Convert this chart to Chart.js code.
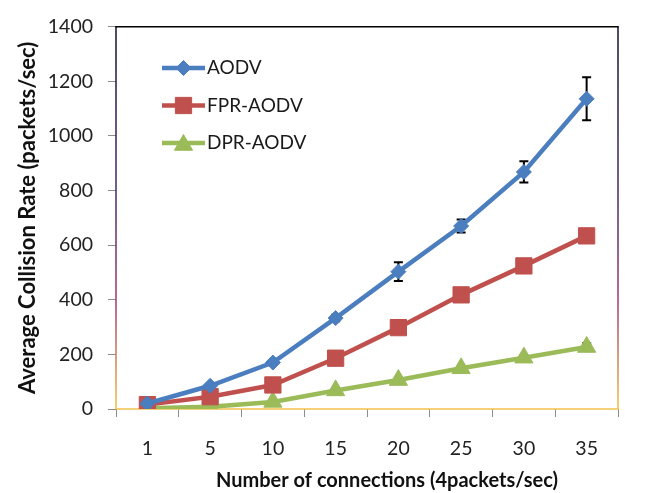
<!DOCTYPE html>
<html>
<head>
<meta charset="utf-8">
<script src="https://cdn.jsdelivr.net/npm/chart.js@4/dist/chart.umd.min.js"></script>
<style>
  html, body { margin: 0; padding: 0; background: #ffffff; }
  #wrap { width: 649px; height: 493px; }
</style>
</head>
<body>
<div id="wrap"><canvas id="chart" width="649" height="493"></canvas></div>
<script>
// Number of connections (x categories)
const connections = ['1', '5', '10', '15', '20', '25', '30', '35'];

// Average collision rate (packets/sec) per protocol
const aodv    = [20, 85, 170, 333, 503, 670, 868, 1136];
const fprAodv = [16, 45, 88, 186, 298, 418, 524, 634];
const dprAodv = [3, 8, 26, 68, 106, 149, 188, 227];

// Half-length of the error bars
const aodvErr    = [3, 5, 8, 12, 34, 24, 39, 79];
const fprAodvErr = [0, 0, 0, 0, 0, 0, 0, 0];
const dprAodvErr = [0, 0, 0, 0, 0, 0, 8, 14];

// Y axis range and step
const yMin = 0;
const yMax = 1400;
const yStep = 200;

const seriesNames = ['AODV', 'FPR-AODV', 'DPR-AODV'];
const xTitle = 'Number of connections (4packets/sec)';
const yTitle = 'Average Collision Rate (packets/sec)';

const BLUE = '#4a7ebf';
const RED = '#c0504d';
const GREEN = '#9bbb59';
const FONT = 'Lato, "Open Sans", sans-serif';

// Plot frame: black top, gradient sides, amber base
const framePlugin = {
  id: 'frame',
  beforeDatasetsDraw(chart) {
    const { ctx, chartArea: a } = chart;
    ctx.save();
    const g = ctx.createLinearGradient(0, a.top, 0, a.bottom);
    g.addColorStop(0, '#111133');
    g.addColorStop(0.45, '#4a2a6a');
    g.addColorStop(0.72, '#a03a70');
    g.addColorStop(1, '#f2c040');
    ctx.lineWidth = 1.5;
    ctx.strokeStyle = g;
    ctx.beginPath();
    ctx.moveTo(a.left, a.top); ctx.lineTo(a.left, a.bottom);
    ctx.moveTo(a.right, a.top); ctx.lineTo(a.right, a.bottom);
    ctx.stroke();
    ctx.strokeStyle = '#000000';
    ctx.beginPath();
    ctx.moveTo(a.left - 0.75, a.top); ctx.lineTo(a.right + 0.75, a.top);
    ctx.stroke();
    ctx.strokeStyle = '#f0c24a';
    ctx.beginPath();
    ctx.moveTo(a.left, a.bottom); ctx.lineTo(a.right + 0.75, a.bottom);
    ctx.stroke();
    ctx.restore();
  }
};

// Vertical error bars with caps, drawn under the markers
const errorBarPlugin = {
  id: 'errorBars',
  beforeDatasetsDraw(chart) {
    const { ctx } = chart;
    const x = chart.scales.x, y = chart.scales.y;
    ctx.save();
    ctx.strokeStyle = '#000000';
    ctx.lineWidth = 2;
    chart.data.datasets.forEach(ds => {
      ds.data.forEach((v, i) => {
        const e = ds.errors[i];
        if (!e) return;
        const px = x.getPixelForValue(i);
        const top = y.getPixelForValue(v + e);
        const bot = y.getPixelForValue(v - e);
        ctx.beginPath();
        ctx.moveTo(px, top); ctx.lineTo(px, bot);
        ctx.moveTo(px - 4.5, top); ctx.lineTo(px + 4.5, top);
        ctx.moveTo(px - 4.5, bot); ctx.lineTo(px + 4.5, bot);
        ctx.stroke();
      });
    });
    ctx.restore();
  }
};

// Legend inside the plot, upper left
const insideLegend = {
  id: 'insideLegend',
  afterDatasetsDraw(chart) {
    const { ctx } = chart;
    const x0 = 162, lineW = 43, y0 = 68, gap = 37.5;
    ctx.save();
    chart.data.datasets.forEach((ds, i) => {
      const yy = y0 + i * gap;
      ctx.strokeStyle = ds.borderColor;
      ctx.lineWidth = ds.borderWidth;
      ctx.lineCap = 'butt';
      ctx.beginPath();
      ctx.moveTo(x0, yy); ctx.lineTo(x0 + lineW, yy);
      ctx.stroke();
      ctx.fillStyle = ds.backgroundColor;
      ctx.strokeStyle = ds.backgroundColor;
      ctx.lineWidth = 1;
      Chart.helpers.drawPoint(ctx, {
        pointStyle: ds.pointStyle, rotation: 0, borderWidth: 1, radius: ds.pointRadius
      }, x0 + lineW / 2, yy + (ds.pointStyle === 'triangle' ? 2 : 0));
      ctx.fillStyle = '#1a1a1a';
      ctx.font = '19px ' + FONT;
      ctx.textBaseline = 'middle';
      ctx.textAlign = 'left';
      ctx.fillText(ds.label, x0 + lineW + 2, yy);
    });
    ctx.restore();
  }
};

// X axis title, centred under the category labels
const xTitlePlugin = {
  id: 'xTitle',
  afterDraw(chart) {
    const { ctx, chartArea: a } = chart;
    ctx.save();
    ctx.fillStyle = '#111111';
    ctx.font = 'bold 20px ' + FONT;
    ctx.textAlign = 'center';
    ctx.textBaseline = 'middle';
    ctx.fillText(xTitle, (a.left + a.right) / 2 + 20, 481);
    ctx.restore();
  }
};

const mkSet = (label, data, errors, color, style, radius) => ({
  label, data, errors,
  borderColor: color,
  backgroundColor: color,
  borderWidth: 4.5,
  pointStyle: style,
  pointRadius: radius,
  pointHoverRadius: radius,
  pointBorderWidth: 1,
  pointBorderColor: color,
  pointBackgroundColor: color,
  tension: 0
});

new Chart(document.getElementById('chart'), {
  type: 'line',
  data: {
    labels: connections,
    datasets: [
      mkSet(seriesNames[0], aodv, aodvErr, BLUE, 'rectRot', 7.5),
      mkSet(seriesNames[1], fprAodv, fprAodvErr, RED, 'rect', 11.5),
      mkSet(seriesNames[2], dprAodv, dprAodvErr, GREEN, 'triangle', 10.5)
    ]
  },
  options: {
    responsive: false,
    animation: false,
    devicePixelRatio: 1,
    layout: { padding: { top: 20, right: 31, bottom: 0, left: 0 } },
    plugins: {
      legend: { display: false },
      tooltip: { enabled: false }
    },
    scales: {
      x: {
        type: 'category',
        offset: true,
        grid: { offset: true, drawOnChartArea: false, tickLength: 8, color: '#8c8c8c', lineWidth: 1 },
        border: { display: false },
        ticks: { color: '#222222', font: { family: FONT, size: 19.5 }, padding: 20, maxRotation: 0 },
        afterFit(s) { s.height = 84; }
      },
      y: {
        min: yMin,
        max: yMax,
        grid: { drawOnChartArea: false, tickLength: 8, color: '#8c8c8c', lineWidth: 1 },
        border: { display: false },
        ticks: {
          stepSize: yStep, color: '#222222', font: { family: FONT, size: 19.5 }, padding: 15,
          callback: v => String(v)
        },
        title: {
          display: true, text: yTitle, color: '#111111',
          font: { family: FONT, size: 22, weight: 'bold' },
          padding: { top: 15, bottom: 0 }
        },
        afterFit(s) { s.width = 116; }
      }
    }
  },
  plugins: [framePlugin, errorBarPlugin, insideLegend, xTitlePlugin]
});
</script>
</body>
</html>
